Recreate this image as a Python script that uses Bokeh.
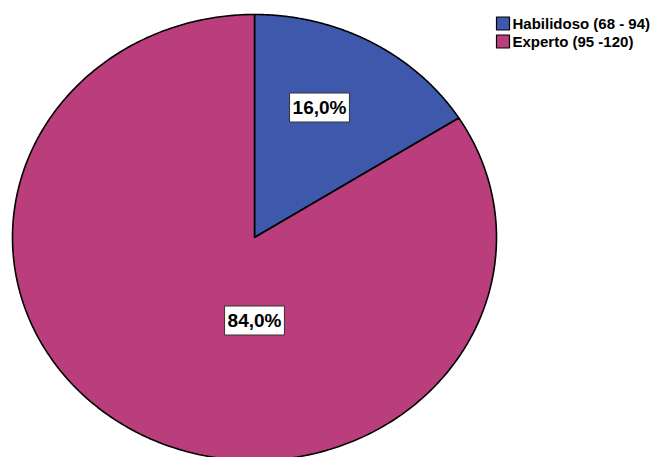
import numpy as np
from bokeh.plotting import figure
from bokeh.models import Range1d, Label, ColumnDataSource
from bokeh.core.properties import value
from bokeh.embed import file_html
from bokeh.resources import INLINE

# ---- data ----
categories = ["Habilidoso (68 - 94)", "Experto (95 -120)"]
percents = [16.0, 84.0]
pct_labels = ["16,0%", "84,0%"]

# ---- style / layout ----
colors = ["#3E58AC", "#BA3E7C"]
W, H = 656, 457
cx, cy, rx, ry = 254, 237, 242, 223
label_pos = [(319, 107), (254, 320)]

p = figure(width=W, height=H, output_backend="svg", toolbar_location=None,
           x_range=Range1d(0, W), y_range=Range1d(H, 0), min_border=0)
p.axis.visible = False
p.grid.visible = False
p.outline_line_color = None
p.background_fill_color = "white"
p.border_fill_color = "white"

fr = np.array(percents) / np.sum(percents)
ends = np.cumsum(fr) * 2 * np.pi
starts = ends - fr * 2 * np.pi
xs, ys = [], []
for s, e in zip(starts, ends):
    t = np.linspace(s, e, 300)
    xs.append(np.concatenate([[cx], cx + rx * np.sin(t), [cx]]))
    ys.append(np.concatenate([[cy], cy - ry * np.cos(t), [cy]]))
p.patches(xs=xs, ys=ys, fill_color=colors, line_color="black", line_width=1.6)

for (lx, ly), txt in zip(label_pos, pct_labels):
    p.add_layout(Label(x=lx, y=ly, text=txt, text_align="center", text_baseline="middle",
                       text_font="Liberation Sans", text_font_style="bold", text_font_size="19px",
                       text_color="black", background_fill_color="white",
                       border_line_color="#333333", border_line_width=1, padding=(3, 4)))

# legend
leg_y = [23, 41]
src = ColumnDataSource(dict(x=[502.5] * len(categories), y=leg_y, c=colors, t=categories,
                            tx=[512] * len(categories)))
p.rect(x="x", y="y", width=13, height=13, fill_color="c", line_color="black", line_width=1.2, source=src)
p.text(x="tx", y="y", text="t", text_font=value("Liberation Sans"), text_font_style="bold",
       text_font_size="15px", text_baseline="middle", text_color="black", source=src)

open("out.html", "w").write(file_html(p, INLINE))
